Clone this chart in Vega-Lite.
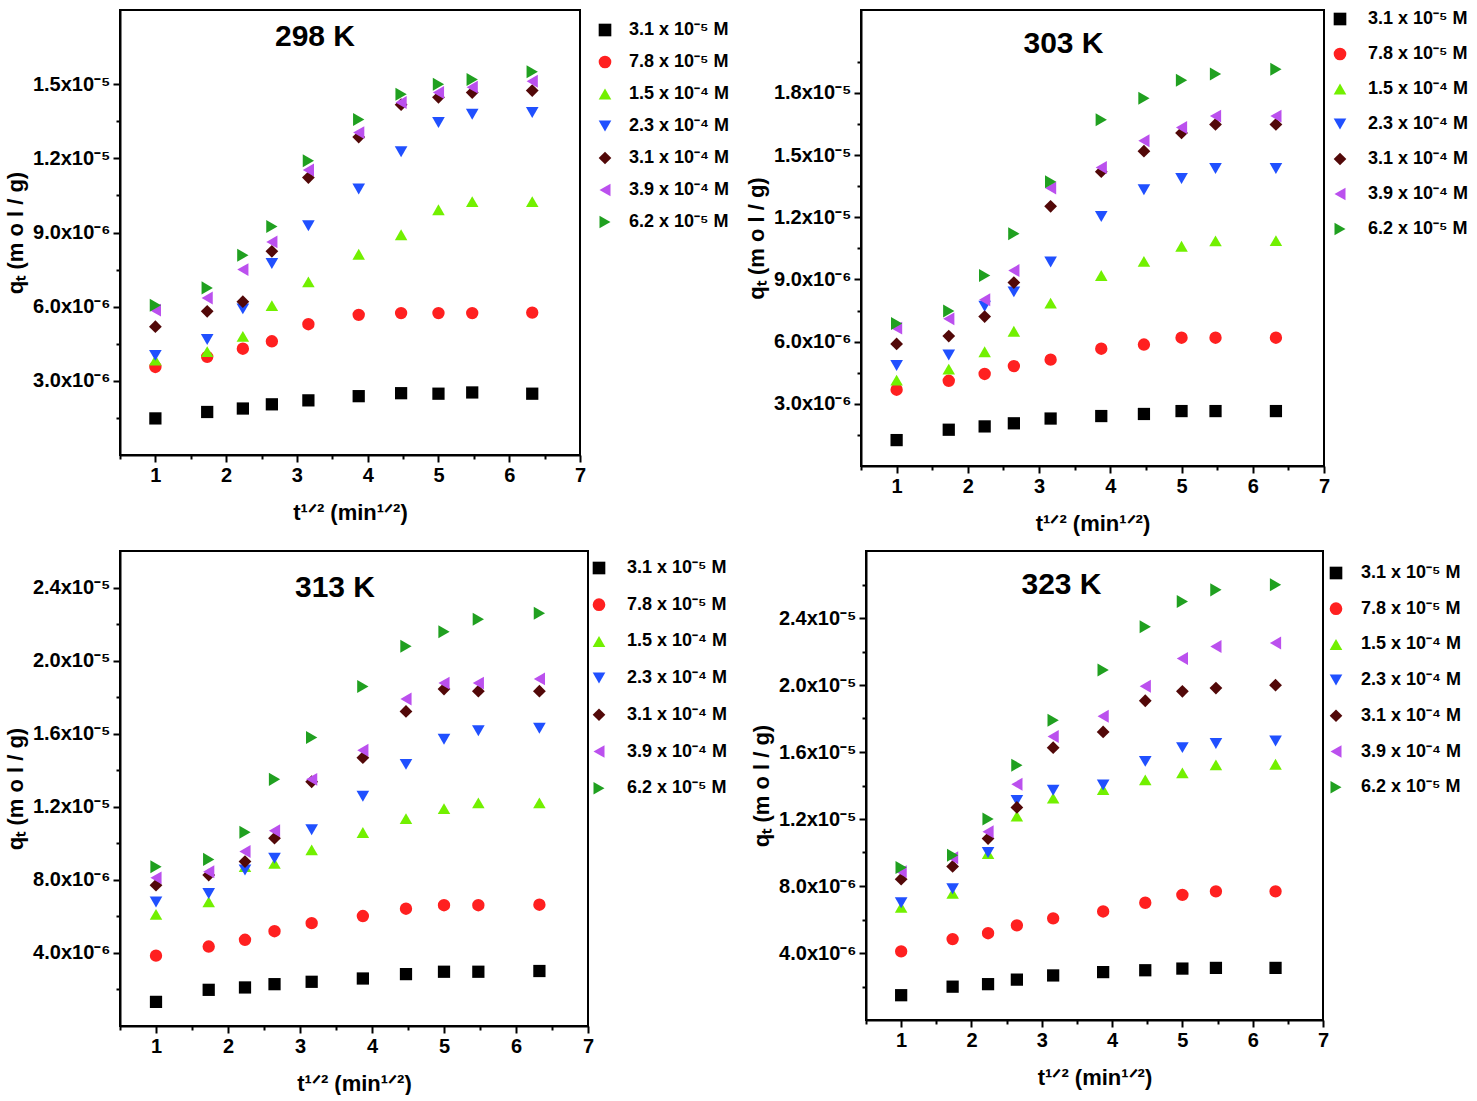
{
  "$schema": "https://vega.github.io/schema/vega-lite/v6.json",
  "background": "white",
  "padding": {"left": 3, "top": 9, "right": 0, "bottom": 0},
  "datasets": {
    "k298": [
      {"c": "3.1 x 10⁻⁵ M", "t": 1, "q": 1.48e-6}, {"c": "3.1 x 10⁻⁵ M", "t": 1.732, "q": 1.74e-6}, {"c": "3.1 x 10⁻⁵ M", "t": 2.236, "q": 1.88e-6}, {"c": "3.1 x 10⁻⁵ M", "t": 2.646, "q": 2.05e-6}, {"c": "3.1 x 10⁻⁵ M", "t": 3.162, "q": 2.21e-6},
      {"c": "3.1 x 10⁻⁵ M", "t": 3.873, "q": 2.38e-6}, {"c": "3.1 x 10⁻⁵ M", "t": 4.472, "q": 2.50e-6}, {"c": "3.1 x 10⁻⁵ M", "t": 5, "q": 2.48e-6}, {"c": "3.1 x 10⁻⁵ M", "t": 5.477, "q": 2.53e-6}, {"c": "3.1 x 10⁻⁵ M", "t": 6.325, "q": 2.48e-6},
      {"c": "7.8 x 10⁻⁵ M", "t": 1, "q": 3.56e-6}, {"c": "7.8 x 10⁻⁵ M", "t": 1.732, "q": 3.97e-6}, {"c": "7.8 x 10⁻⁵ M", "t": 2.236, "q": 4.30e-6}, {"c": "7.8 x 10⁻⁵ M", "t": 2.646, "q": 4.60e-6}, {"c": "7.8 x 10⁻⁵ M", "t": 3.162, "q": 5.29e-6},
      {"c": "7.8 x 10⁻⁵ M", "t": 3.873, "q": 5.67e-6}, {"c": "7.8 x 10⁻⁵ M", "t": 4.472, "q": 5.74e-6}, {"c": "7.8 x 10⁻⁵ M", "t": 5, "q": 5.74e-6}, {"c": "7.8 x 10⁻⁵ M", "t": 5.477, "q": 5.74e-6}, {"c": "7.8 x 10⁻⁵ M", "t": 6.325, "q": 5.76e-6},
      {"c": "1.5 x 10⁻⁴ M", "t": 1, "q": 3.84e-6}, {"c": "1.5 x 10⁻⁴ M", "t": 1.732, "q": 4.18e-6}, {"c": "1.5 x 10⁻⁴ M", "t": 2.236, "q": 4.80e-6}, {"c": "1.5 x 10⁻⁴ M", "t": 2.646, "q": 6.04e-6}, {"c": "1.5 x 10⁻⁴ M", "t": 3.162, "q": 7.00e-6},
      {"c": "1.5 x 10⁻⁴ M", "t": 3.873, "q": 8.12e-6}, {"c": "1.5 x 10⁻⁴ M", "t": 4.472, "q": 8.91e-6}, {"c": "1.5 x 10⁻⁴ M", "t": 5, "q": 9.92e-6}, {"c": "1.5 x 10⁻⁴ M", "t": 5.477, "q": 1.025e-5}, {"c": "1.5 x 10⁻⁴ M", "t": 6.325, "q": 1.025e-5},
      {"c": "2.3 x 10⁻⁴ M", "t": 1, "q": 4.03e-6}, {"c": "2.3 x 10⁻⁴ M", "t": 1.732, "q": 4.67e-6}, {"c": "2.3 x 10⁻⁴ M", "t": 2.236, "q": 5.91e-6}, {"c": "2.3 x 10⁻⁴ M", "t": 2.646, "q": 7.75e-6}, {"c": "2.3 x 10⁻⁴ M", "t": 3.162, "q": 9.27e-6},
      {"c": "2.3 x 10⁻⁴ M", "t": 3.873, "q": 1.076e-5}, {"c": "2.3 x 10⁻⁴ M", "t": 4.472, "q": 1.227e-5}, {"c": "2.3 x 10⁻⁴ M", "t": 5, "q": 1.345e-5}, {"c": "2.3 x 10⁻⁴ M", "t": 5.477, "q": 1.378e-5}, {"c": "2.3 x 10⁻⁴ M", "t": 6.325, "q": 1.385e-5},
      {"c": "3.1 x 10⁻⁴ M", "t": 1, "q": 5.19e-6}, {"c": "3.1 x 10⁻⁴ M", "t": 1.732, "q": 5.81e-6}, {"c": "3.1 x 10⁻⁴ M", "t": 2.236, "q": 6.20e-6}, {"c": "3.1 x 10⁻⁴ M", "t": 2.646, "q": 8.24e-6}, {"c": "3.1 x 10⁻⁴ M", "t": 3.162, "q": 1.122e-5},
      {"c": "3.1 x 10⁻⁴ M", "t": 3.873, "q": 1.286e-5}, {"c": "3.1 x 10⁻⁴ M", "t": 4.472, "q": 1.417e-5}, {"c": "3.1 x 10⁻⁴ M", "t": 5, "q": 1.447e-5}, {"c": "3.1 x 10⁻⁴ M", "t": 5.477, "q": 1.466e-5}, {"c": "3.1 x 10⁻⁴ M", "t": 6.325, "q": 1.474e-5},
      {"c": "3.9 x 10⁻⁴ M", "t": 1, "q": 5.86e-6}, {"c": "3.9 x 10⁻⁴ M", "t": 1.732, "q": 6.35e-6}, {"c": "3.9 x 10⁻⁴ M", "t": 2.236, "q": 7.50e-6}, {"c": "3.9 x 10⁻⁴ M", "t": 2.646, "q": 8.62e-6}, {"c": "3.9 x 10⁻⁴ M", "t": 3.162, "q": 1.153e-5},
      {"c": "3.9 x 10⁻⁴ M", "t": 3.873, "q": 1.304e-5}, {"c": "3.9 x 10⁻⁴ M", "t": 4.472, "q": 1.426e-5}, {"c": "3.9 x 10⁻⁴ M", "t": 5, "q": 1.466e-5}, {"c": "3.9 x 10⁻⁴ M", "t": 5.477, "q": 1.488e-5}, {"c": "3.9 x 10⁻⁴ M", "t": 6.325, "q": 1.512e-5},
      {"c": "6.2 x 10⁻⁵ M", "t": 1, "q": 6.06e-6}, {"c": "6.2 x 10⁻⁵ M", "t": 1.732, "q": 6.76e-6}, {"c": "6.2 x 10⁻⁵ M", "t": 2.236, "q": 8.08e-6}, {"c": "6.2 x 10⁻⁵ M", "t": 2.646, "q": 9.24e-6}, {"c": "6.2 x 10⁻⁵ M", "t": 3.162, "q": 1.190e-5},
      {"c": "6.2 x 10⁻⁵ M", "t": 3.873, "q": 1.357e-5}, {"c": "6.2 x 10⁻⁵ M", "t": 4.472, "q": 1.459e-5}, {"c": "6.2 x 10⁻⁵ M", "t": 5, "q": 1.500e-5}, {"c": "6.2 x 10⁻⁵ M", "t": 5.477, "q": 1.519e-5}, {"c": "6.2 x 10⁻⁵ M", "t": 6.325, "q": 1.550e-5}
    ],
    "k303": [
      {"c": "3.1 x 10⁻⁵ M", "t": 1, "q": 1.25e-6}, {"c": "3.1 x 10⁻⁵ M", "t": 1.732, "q": 1.75e-6}, {"c": "3.1 x 10⁻⁵ M", "t": 2.236, "q": 1.91e-6}, {"c": "3.1 x 10⁻⁵ M", "t": 2.646, "q": 2.06e-6}, {"c": "3.1 x 10⁻⁵ M", "t": 3.162, "q": 2.29e-6},
      {"c": "3.1 x 10⁻⁵ M", "t": 3.873, "q": 2.41e-6}, {"c": "3.1 x 10⁻⁵ M", "t": 4.472, "q": 2.51e-6}, {"c": "3.1 x 10⁻⁵ M", "t": 5, "q": 2.65e-6}, {"c": "3.1 x 10⁻⁵ M", "t": 5.477, "q": 2.65e-6}, {"c": "3.1 x 10⁻⁵ M", "t": 6.325, "q": 2.65e-6},
      {"c": "7.8 x 10⁻⁵ M", "t": 1, "q": 3.68e-6}, {"c": "7.8 x 10⁻⁵ M", "t": 1.732, "q": 4.11e-6}, {"c": "7.8 x 10⁻⁵ M", "t": 2.236, "q": 4.44e-6}, {"c": "7.8 x 10⁻⁵ M", "t": 2.646, "q": 4.82e-6}, {"c": "7.8 x 10⁻⁵ M", "t": 3.162, "q": 5.13e-6},
      {"c": "7.8 x 10⁻⁵ M", "t": 3.873, "q": 5.66e-6}, {"c": "7.8 x 10⁻⁵ M", "t": 4.472, "q": 5.86e-6}, {"c": "7.8 x 10⁻⁵ M", "t": 5, "q": 6.19e-6}, {"c": "7.8 x 10⁻⁵ M", "t": 5.477, "q": 6.19e-6}, {"c": "7.8 x 10⁻⁵ M", "t": 6.325, "q": 6.19e-6},
      {"c": "1.5 x 10⁻⁴ M", "t": 1, "q": 4.14e-6}, {"c": "1.5 x 10⁻⁴ M", "t": 1.732, "q": 4.67e-6}, {"c": "1.5 x 10⁻⁴ M", "t": 2.236, "q": 5.51e-6}, {"c": "1.5 x 10⁻⁴ M", "t": 2.646, "q": 6.50e-6}, {"c": "1.5 x 10⁻⁴ M", "t": 3.162, "q": 7.86e-6},
      {"c": "1.5 x 10⁻⁴ M", "t": 3.873, "q": 9.19e-6}, {"c": "1.5 x 10⁻⁴ M", "t": 4.472, "q": 9.87e-6}, {"c": "1.5 x 10⁻⁴ M", "t": 5, "q": 1.060e-5}, {"c": "1.5 x 10⁻⁴ M", "t": 5.477, "q": 1.086e-5}, {"c": "1.5 x 10⁻⁴ M", "t": 6.325, "q": 1.087e-5},
      {"c": "2.3 x 10⁻⁴ M", "t": 1, "q": 4.85e-6}, {"c": "2.3 x 10⁻⁴ M", "t": 1.732, "q": 5.36e-6}, {"c": "2.3 x 10⁻⁴ M", "t": 2.236, "q": 7.71e-6}, {"c": "2.3 x 10⁻⁴ M", "t": 2.646, "q": 8.40e-6}, {"c": "2.3 x 10⁻⁴ M", "t": 3.162, "q": 9.84e-6},
      {"c": "2.3 x 10⁻⁴ M", "t": 3.873, "q": 1.204e-5}, {"c": "2.3 x 10⁻⁴ M", "t": 4.472, "q": 1.333e-5}, {"c": "2.3 x 10⁻⁴ M", "t": 5, "q": 1.387e-5}, {"c": "2.3 x 10⁻⁴ M", "t": 5.477, "q": 1.435e-5}, {"c": "2.3 x 10⁻⁴ M", "t": 6.325, "q": 1.435e-5},
      {"c": "3.1 x 10⁻⁴ M", "t": 1, "q": 5.89e-6}, {"c": "3.1 x 10⁻⁴ M", "t": 1.732, "q": 6.27e-6}, {"c": "3.1 x 10⁻⁴ M", "t": 2.236, "q": 7.21e-6}, {"c": "3.1 x 10⁻⁴ M", "t": 2.646, "q": 8.85e-6}, {"c": "3.1 x 10⁻⁴ M", "t": 3.162, "q": 1.253e-5},
      {"c": "3.1 x 10⁻⁴ M", "t": 3.873, "q": 1.420e-5}, {"c": "3.1 x 10⁻⁴ M", "t": 4.472, "q": 1.519e-5}, {"c": "3.1 x 10⁻⁴ M", "t": 5, "q": 1.607e-5}, {"c": "3.1 x 10⁻⁴ M", "t": 5.477, "q": 1.648e-5}, {"c": "3.1 x 10⁻⁴ M", "t": 6.325, "q": 1.648e-5},
      {"c": "3.9 x 10⁻⁴ M", "t": 1, "q": 6.65e-6}, {"c": "3.9 x 10⁻⁴ M", "t": 1.732, "q": 7.10e-6}, {"c": "3.9 x 10⁻⁴ M", "t": 2.236, "q": 8.02e-6}, {"c": "3.9 x 10⁻⁴ M", "t": 2.646, "q": 9.43e-6}, {"c": "3.9 x 10⁻⁴ M", "t": 3.162, "q": 1.341e-5},
      {"c": "3.9 x 10⁻⁴ M", "t": 3.873, "q": 1.440e-5}, {"c": "3.9 x 10⁻⁴ M", "t": 4.472, "q": 1.569e-5}, {"c": "3.9 x 10⁻⁴ M", "t": 5, "q": 1.633e-5}, {"c": "3.9 x 10⁻⁴ M", "t": 5.477, "q": 1.688e-5}, {"c": "3.9 x 10⁻⁴ M", "t": 6.325, "q": 1.688e-5},
      {"c": "6.2 x 10⁻⁵ M", "t": 1, "q": 6.88e-6}, {"c": "6.2 x 10⁻⁵ M", "t": 1.732, "q": 7.48e-6}, {"c": "6.2 x 10⁻⁵ M", "t": 2.236, "q": 9.19e-6}, {"c": "6.2 x 10⁻⁵ M", "t": 2.646, "q": 1.121e-5}, {"c": "6.2 x 10⁻⁵ M", "t": 3.162, "q": 1.371e-5},
      {"c": "6.2 x 10⁻⁵ M", "t": 3.873, "q": 1.671e-5}, {"c": "6.2 x 10⁻⁵ M", "t": 4.472, "q": 1.774e-5}, {"c": "6.2 x 10⁻⁵ M", "t": 5, "q": 1.861e-5}, {"c": "6.2 x 10⁻⁵ M", "t": 5.477, "q": 1.891e-5}, {"c": "6.2 x 10⁻⁵ M", "t": 6.325, "q": 1.914e-5}
    ],
    "k313": [
      {"c": "3.1 x 10⁻⁵ M", "t": 1, "q": 1.32e-6}, {"c": "3.1 x 10⁻⁵ M", "t": 1.732, "q": 1.98e-6}, {"c": "3.1 x 10⁻⁵ M", "t": 2.236, "q": 2.11e-6}, {"c": "3.1 x 10⁻⁵ M", "t": 2.646, "q": 2.29e-6}, {"c": "3.1 x 10⁻⁵ M", "t": 3.162, "q": 2.42e-6},
      {"c": "3.1 x 10⁻⁵ M", "t": 3.873, "q": 2.60e-6}, {"c": "3.1 x 10⁻⁵ M", "t": 4.472, "q": 2.84e-6}, {"c": "3.1 x 10⁻⁵ M", "t": 5, "q": 2.97e-6}, {"c": "3.1 x 10⁻⁵ M", "t": 5.477, "q": 2.97e-6}, {"c": "3.1 x 10⁻⁵ M", "t": 6.325, "q": 3.01e-6},
      {"c": "7.8 x 10⁻⁵ M", "t": 1, "q": 3.85e-6}, {"c": "7.8 x 10⁻⁵ M", "t": 1.732, "q": 4.35e-6}, {"c": "7.8 x 10⁻⁵ M", "t": 2.236, "q": 4.72e-6}, {"c": "7.8 x 10⁻⁵ M", "t": 2.646, "q": 5.19e-6}, {"c": "7.8 x 10⁻⁵ M", "t": 3.162, "q": 5.63e-6},
      {"c": "7.8 x 10⁻⁵ M", "t": 3.873, "q": 6.02e-6}, {"c": "7.8 x 10⁻⁵ M", "t": 4.472, "q": 6.42e-6}, {"c": "7.8 x 10⁻⁵ M", "t": 5, "q": 6.61e-6}, {"c": "7.8 x 10⁻⁵ M", "t": 5.477, "q": 6.61e-6}, {"c": "7.8 x 10⁻⁵ M", "t": 6.325, "q": 6.64e-6},
      {"c": "1.5 x 10⁻⁴ M", "t": 1, "q": 6.11e-6}, {"c": "1.5 x 10⁻⁴ M", "t": 1.732, "q": 6.79e-6}, {"c": "1.5 x 10⁻⁴ M", "t": 2.236, "q": 8.72e-6}, {"c": "1.5 x 10⁻⁴ M", "t": 2.646, "q": 8.90e-6}, {"c": "1.5 x 10⁻⁴ M", "t": 3.162, "q": 9.64e-6},
      {"c": "1.5 x 10⁻⁴ M", "t": 3.873, "q": 1.059e-5}, {"c": "1.5 x 10⁻⁴ M", "t": 4.472, "q": 1.135e-5}, {"c": "1.5 x 10⁻⁴ M", "t": 5, "q": 1.190e-5}, {"c": "1.5 x 10⁻⁴ M", "t": 5.477, "q": 1.221e-5}, {"c": "1.5 x 10⁻⁴ M", "t": 6.325, "q": 1.221e-5},
      {"c": "2.3 x 10⁻⁴ M", "t": 1, "q": 6.79e-6}, {"c": "2.3 x 10⁻⁴ M", "t": 1.732, "q": 7.25e-6}, {"c": "2.3 x 10⁻⁴ M", "t": 2.236, "q": 8.54e-6}, {"c": "2.3 x 10⁻⁴ M", "t": 2.646, "q": 9.18e-6}, {"c": "2.3 x 10⁻⁴ M", "t": 3.162, "q": 1.074e-5},
      {"c": "2.3 x 10⁻⁴ M", "t": 3.873, "q": 1.258e-5}, {"c": "2.3 x 10⁻⁴ M", "t": 4.472, "q": 1.432e-5}, {"c": "2.3 x 10⁻⁴ M", "t": 5, "q": 1.570e-5}, {"c": "2.3 x 10⁻⁴ M", "t": 5.477, "q": 1.616e-5}, {"c": "2.3 x 10⁻⁴ M", "t": 6.325, "q": 1.630e-5},
      {"c": "3.1 x 10⁻⁴ M", "t": 1, "q": 7.71e-6}, {"c": "3.1 x 10⁻⁴ M", "t": 1.732, "q": 8.26e-6}, {"c": "3.1 x 10⁻⁴ M", "t": 2.236, "q": 9.00e-6}, {"c": "3.1 x 10⁻⁴ M", "t": 2.646, "q": 1.028e-5}, {"c": "3.1 x 10⁻⁴ M", "t": 3.162, "q": 1.337e-5},
      {"c": "3.1 x 10⁻⁴ M", "t": 3.873, "q": 1.469e-5}, {"c": "3.1 x 10⁻⁴ M", "t": 4.472, "q": 1.722e-5}, {"c": "3.1 x 10⁻⁴ M", "t": 5, "q": 1.844e-5}, {"c": "3.1 x 10⁻⁴ M", "t": 5.477, "q": 1.833e-5}, {"c": "3.1 x 10⁻⁴ M", "t": 6.325, "q": 1.833e-5},
      {"c": "3.9 x 10⁻⁴ M", "t": 1, "q": 8.11e-6}, {"c": "3.9 x 10⁻⁴ M", "t": 1.732, "q": 8.44e-6}, {"c": "3.9 x 10⁻⁴ M", "t": 2.236, "q": 9.55e-6}, {"c": "3.9 x 10⁻⁴ M", "t": 2.646, "q": 1.069e-5}, {"c": "3.9 x 10⁻⁴ M", "t": 3.162, "q": 1.350e-5},
      {"c": "3.9 x 10⁻⁴ M", "t": 3.873, "q": 1.509e-5}, {"c": "3.9 x 10⁻⁴ M", "t": 4.472, "q": 1.790e-5}, {"c": "3.9 x 10⁻⁴ M", "t": 5, "q": 1.877e-5}, {"c": "3.9 x 10⁻⁴ M", "t": 5.477, "q": 1.877e-5}, {"c": "3.9 x 10⁻⁴ M", "t": 6.325, "q": 1.900e-5},
      {"c": "6.2 x 10⁻⁵ M", "t": 1, "q": 8.72e-6}, {"c": "6.2 x 10⁻⁵ M", "t": 1.732, "q": 9.12e-6}, {"c": "6.2 x 10⁻⁵ M", "t": 2.236, "q": 1.061e-5}, {"c": "6.2 x 10⁻⁵ M", "t": 2.646, "q": 1.350e-5}, {"c": "6.2 x 10⁻⁵ M", "t": 3.162, "q": 1.579e-5},
      {"c": "6.2 x 10⁻⁵ M", "t": 3.873, "q": 1.858e-5}, {"c": "6.2 x 10⁻⁵ M", "t": 4.472, "q": 2.079e-5}, {"c": "6.2 x 10⁻⁵ M", "t": 5, "q": 2.158e-5}, {"c": "6.2 x 10⁻⁵ M", "t": 5.477, "q": 2.226e-5}, {"c": "6.2 x 10⁻⁵ M", "t": 6.325, "q": 2.259e-5}
    ],
    "k323": [
      {"c": "3.1 x 10⁻⁵ M", "t": 1, "q": 1.48e-6}, {"c": "3.1 x 10⁻⁵ M", "t": 1.732, "q": 1.99e-6}, {"c": "3.1 x 10⁻⁵ M", "t": 2.236, "q": 2.14e-6}, {"c": "3.1 x 10⁻⁵ M", "t": 2.646, "q": 2.41e-6}, {"c": "3.1 x 10⁻⁵ M", "t": 3.162, "q": 2.66e-6},
      {"c": "3.1 x 10⁻⁵ M", "t": 3.873, "q": 2.86e-6}, {"c": "3.1 x 10⁻⁵ M", "t": 4.472, "q": 2.97e-6}, {"c": "3.1 x 10⁻⁵ M", "t": 5, "q": 3.07e-6}, {"c": "3.1 x 10⁻⁵ M", "t": 5.477, "q": 3.11e-6}, {"c": "3.1 x 10⁻⁵ M", "t": 6.325, "q": 3.11e-6},
      {"c": "7.8 x 10⁻⁵ M", "t": 1, "q": 4.10e-6}, {"c": "7.8 x 10⁻⁵ M", "t": 1.732, "q": 4.83e-6}, {"c": "7.8 x 10⁻⁵ M", "t": 2.236, "q": 5.18e-6}, {"c": "7.8 x 10⁻⁵ M", "t": 2.646, "q": 5.65e-6}, {"c": "7.8 x 10⁻⁵ M", "t": 3.162, "q": 6.07e-6},
      {"c": "7.8 x 10⁻⁵ M", "t": 3.873, "q": 6.48e-6}, {"c": "7.8 x 10⁻⁵ M", "t": 4.472, "q": 7.00e-6}, {"c": "7.8 x 10⁻⁵ M", "t": 5, "q": 7.47e-6}, {"c": "7.8 x 10⁻⁵ M", "t": 5.477, "q": 7.68e-6}, {"c": "7.8 x 10⁻⁵ M", "t": 6.325, "q": 7.68e-6},
      {"c": "1.5 x 10⁻⁴ M", "t": 1, "q": 6.73e-6}, {"c": "1.5 x 10⁻⁴ M", "t": 1.732, "q": 7.56e-6}, {"c": "1.5 x 10⁻⁴ M", "t": 2.236, "q": 9.94e-6}, {"c": "1.5 x 10⁻⁴ M", "t": 2.646, "q": 1.217e-5}, {"c": "1.5 x 10⁻⁴ M", "t": 3.162, "q": 1.325e-5},
      {"c": "1.5 x 10⁻⁴ M", "t": 3.873, "q": 1.376e-5}, {"c": "1.5 x 10⁻⁴ M", "t": 4.472, "q": 1.434e-5}, {"c": "1.5 x 10⁻⁴ M", "t": 5, "q": 1.475e-5}, {"c": "1.5 x 10⁻⁴ M", "t": 5.477, "q": 1.523e-5}, {"c": "1.5 x 10⁻⁴ M", "t": 6.325, "q": 1.527e-5},
      {"c": "2.3 x 10⁻⁴ M", "t": 1, "q": 7.00e-6}, {"c": "2.3 x 10⁻⁴ M", "t": 1.732, "q": 7.83e-6}, {"c": "2.3 x 10⁻⁴ M", "t": 2.236, "q": 1.000e-5}, {"c": "2.3 x 10⁻⁴ M", "t": 2.646, "q": 1.310e-5}, {"c": "2.3 x 10⁻⁴ M", "t": 3.162, "q": 1.372e-5},
      {"c": "2.3 x 10⁻⁴ M", "t": 3.873, "q": 1.403e-5}, {"c": "2.3 x 10⁻⁴ M", "t": 4.472, "q": 1.544e-5}, {"c": "2.3 x 10⁻⁴ M", "t": 5, "q": 1.626e-5}, {"c": "2.3 x 10⁻⁴ M", "t": 5.477, "q": 1.651e-5}, {"c": "2.3 x 10⁻⁴ M", "t": 6.325, "q": 1.666e-5},
      {"c": "3.1 x 10⁻⁴ M", "t": 1, "q": 8.41e-6}, {"c": "3.1 x 10⁻⁴ M", "t": 1.732, "q": 9.17e-6}, {"c": "3.1 x 10⁻⁴ M", "t": 2.236, "q": 1.083e-5}, {"c": "3.1 x 10⁻⁴ M", "t": 2.646, "q": 1.269e-5}, {"c": "3.1 x 10⁻⁴ M", "t": 3.162, "q": 1.626e-5},
      {"c": "3.1 x 10⁻⁴ M", "t": 3.873, "q": 1.720e-5}, {"c": "3.1 x 10⁻⁴ M", "t": 4.472, "q": 1.906e-5}, {"c": "3.1 x 10⁻⁴ M", "t": 5, "q": 1.962e-5}, {"c": "3.1 x 10⁻⁴ M", "t": 5.477, "q": 1.982e-5}, {"c": "3.1 x 10⁻⁴ M", "t": 6.325, "q": 1.999e-5},
      {"c": "3.9 x 10⁻⁴ M", "t": 1, "q": 8.86e-6}, {"c": "3.9 x 10⁻⁴ M", "t": 1.732, "q": 9.69e-6}, {"c": "3.9 x 10⁻⁴ M", "t": 2.236, "q": 1.124e-5}, {"c": "3.9 x 10⁻⁴ M", "t": 2.646, "q": 1.407e-5}, {"c": "3.9 x 10⁻⁴ M", "t": 3.162, "q": 1.693e-5},
      {"c": "3.9 x 10⁻⁴ M", "t": 3.873, "q": 1.813e-5}, {"c": "3.9 x 10⁻⁴ M", "t": 4.472, "q": 1.993e-5}, {"c": "3.9 x 10⁻⁴ M", "t": 5, "q": 2.158e-5}, {"c": "3.9 x 10⁻⁴ M", "t": 5.477, "q": 2.230e-5}, {"c": "3.9 x 10⁻⁴ M", "t": 6.325, "q": 2.251e-5},
      {"c": "6.2 x 10⁻⁵ M", "t": 1, "q": 9.11e-6}, {"c": "6.2 x 10⁻⁵ M", "t": 1.732, "q": 9.83e-6}, {"c": "6.2 x 10⁻⁵ M", "t": 2.236, "q": 1.200e-5}, {"c": "6.2 x 10⁻⁵ M", "t": 2.646, "q": 1.521e-5}, {"c": "6.2 x 10⁻⁵ M", "t": 3.162, "q": 1.790e-5},
      {"c": "6.2 x 10⁻⁵ M", "t": 3.873, "q": 2.090e-5}, {"c": "6.2 x 10⁻⁵ M", "t": 4.472, "q": 2.348e-5}, {"c": "6.2 x 10⁻⁵ M", "t": 5, "q": 2.499e-5}, {"c": "6.2 x 10⁻⁵ M", "t": 5.477, "q": 2.568e-5}, {"c": "6.2 x 10⁻⁵ M", "t": 6.325, "q": 2.599e-5}
    ]
  },
  "spacing": 15,
  "vconcat": [
    {
      "spacing": 3,
      "hconcat": [
        {
          "width": 460, "height": 445,
          "data": {"name": "k298"},
          "title": {"text": "298 K", "offset": -42, "dx": -35},
          "layer": [
            {
              "mark": {"type": "point", "filled": true, "opacity": 1},
              "encoding": {
                "x": {"field": "t", "type": "quantitative", "scale": {"domain": [0.5, 7]}, "axis": {"orient": "bottom", "values": [1, 2, 3, 4, 5, 6, 7], "title": "t¹ᐟ² (min¹ᐟ²)"}},
                "y": {"field": "q", "type": "quantitative", "scale": {"domain": [5e-7, 1.65e-5]}, "axis": {"orient": "left", "values": [3e-6, 6e-6, 9e-6, 1.2e-5, 1.5e-5], "labelExpr": "format(datum.value / pow(10, floor(log(datum.value) / LN10)), '.1f') + 'x10' + (floor(log(datum.value) / LN10) == -5 ? '⁻⁵' : '⁻⁶')", "title": "qₜ (m o l / g)"}},
                "color": {"field": "c", "type": "nominal", "scale": {"domain": ["3.1 x 10⁻⁵ M", "7.8 x 10⁻⁵ M", "1.5 x 10⁻⁴ M", "2.3 x 10⁻⁴ M", "3.1 x 10⁻⁴ M", "3.9 x 10⁻⁴ M", "6.2 x 10⁻⁵ M"], "range": ["#000000", "#ff2020", "#72f000", "#2050ff", "#520808", "#bb50ee", "#20a020"]}, "legend": {"offset": 5, "padding": 11, "rowPadding": 14, "labelOffset": 15}},
                "shape": {"field": "c", "type": "nominal", "scale": {"domain": ["3.1 x 10⁻⁵ M", "7.8 x 10⁻⁵ M", "1.5 x 10⁻⁴ M", "2.3 x 10⁻⁴ M", "3.1 x 10⁻⁴ M", "3.9 x 10⁻⁴ M", "6.2 x 10⁻⁵ M"], "range": ["square", "circle", "triangle-up", "triangle-down", "diamond", "triangle-left", "triangle-right"]}},
                "size": {"field": "c", "type": "nominal", "scale": {"domain": ["3.1 x 10⁻⁵ M", "7.8 x 10⁻⁵ M", "1.5 x 10⁻⁴ M", "2.3 x 10⁻⁴ M", "3.1 x 10⁻⁴ M", "3.9 x 10⁻⁴ M", "6.2 x 10⁻⁵ M"], "range": [150, 170, 240, 240, 200, 240, 240]}, "legend": null}
              }
            },
            {
              "mark": {"type": "point", "opacity": 0},
              "encoding": {
                "x": {"field": "t", "type": "quantitative", "axis": {"orient": "bottom", "values": [0.5, 1.5, 2.5, 3.5, 4.5, 5.5, 6.5], "labels": false, "domain": false, "tickSize": 4, "title": null}},
                "y": {"field": "q", "type": "quantitative", "axis": {"orient": "left", "values": [1.5e-6, 4.5e-6, 7.5e-6, 1.05e-5, 1.35e-5], "labels": false, "domain": false, "tickSize": 4, "title": null}}
              }
            }
          ],
          "resolve": {"axis": {"x": "independent", "y": "independent"}}
        },
        {
          "width": 463, "height": 456,
          "data": {"name": "k303"},
          "title": {"text": "303 K", "offset": -49, "dx": -29},
          "layer": [
            {
              "mark": {"type": "point", "filled": true, "opacity": 1},
              "encoding": {
                "x": {"field": "t", "type": "quantitative", "scale": {"domain": [0.5, 7]}, "axis": {"orient": "bottom", "values": [1, 2, 3, 4, 5, 6, 7], "title": "t¹ᐟ² (min¹ᐟ²)"}},
                "y": {"field": "q", "type": "quantitative", "scale": {"domain": [5e-7, 2.05e-5]}, "axis": {"orient": "left", "values": [3e-6, 6e-6, 9e-6, 1.2e-5, 1.5e-5, 1.8e-5], "labelExpr": "format(datum.value / pow(10, floor(log(datum.value) / LN10)), '.1f') + 'x10' + (floor(log(datum.value) / LN10) == -5 ? '⁻⁵' : '⁻⁶')", "title": "qₜ (m o l / g)"}},
                "color": {"field": "c", "type": "nominal", "scale": {"domain": ["3.1 x 10⁻⁵ M", "7.8 x 10⁻⁵ M", "1.5 x 10⁻⁴ M", "2.3 x 10⁻⁴ M", "3.1 x 10⁻⁴ M", "3.9 x 10⁻⁴ M", "6.2 x 10⁻⁵ M"], "range": ["#000000", "#ff2020", "#72f000", "#2050ff", "#520808", "#bb50ee", "#20a020"]}, "legend": {"offset": 7, "padding": 0, "rowPadding": 17, "labelOffset": 19}},
                "shape": {"field": "c", "type": "nominal", "scale": {"domain": ["3.1 x 10⁻⁵ M", "7.8 x 10⁻⁵ M", "1.5 x 10⁻⁴ M", "2.3 x 10⁻⁴ M", "3.1 x 10⁻⁴ M", "3.9 x 10⁻⁴ M", "6.2 x 10⁻⁵ M"], "range": ["square", "circle", "triangle-up", "triangle-down", "diamond", "triangle-left", "triangle-right"]}},
                "size": {"field": "c", "type": "nominal", "scale": {"domain": ["3.1 x 10⁻⁵ M", "7.8 x 10⁻⁵ M", "1.5 x 10⁻⁴ M", "2.3 x 10⁻⁴ M", "3.1 x 10⁻⁴ M", "3.9 x 10⁻⁴ M", "6.2 x 10⁻⁵ M"], "range": [150, 170, 240, 240, 200, 240, 240]}, "legend": null}
              }
            },
            {
              "mark": {"type": "point", "opacity": 0},
              "encoding": {
                "x": {"field": "t", "type": "quantitative", "axis": {"orient": "bottom", "values": [0.5, 1.5, 2.5, 3.5, 4.5, 5.5, 6.5], "labels": false, "domain": false, "tickSize": 4, "title": null}},
                "y": {"field": "q", "type": "quantitative", "axis": {"orient": "left", "values": [1.5e-6, 4.5e-6, 7.5e-6, 1.05e-5, 1.35e-5, 1.65e-5, 1.95e-5], "labels": false, "domain": false, "tickSize": 4, "title": null}}
              }
            }
          ],
          "resolve": {"axis": {"x": "independent", "y": "independent"}}
        }
      ],
      "resolve": {"scale": {"x": "independent", "y": "independent"}, "legend": {"color": "independent", "shape": "independent"}}
    },
    {
      "spacing": 13,
      "hconcat": [
        {
          "width": 468, "height": 475,
          "data": {"name": "k313"},
          "title": {"text": "313 K", "offset": -52, "dx": -19},
          "layer": [
            {
              "mark": {"type": "point", "filled": true, "opacity": 1},
              "encoding": {
                "x": {"field": "t", "type": "quantitative", "scale": {"domain": [0.5, 7]}, "axis": {"orient": "bottom", "values": [1, 2, 3, 4, 5, 6, 7], "title": "t¹ᐟ² (min¹ᐟ²)"}},
                "y": {"field": "q", "type": "quantitative", "scale": {"domain": [5e-7, 2.5e-5]}, "axis": {"orient": "left", "values": [4e-6, 8e-6, 1.2e-5, 1.6e-5, 2.0e-5, 2.4e-5], "labelExpr": "format(datum.value / pow(10, floor(log(datum.value) / LN10)), '.1f') + 'x10' + (floor(log(datum.value) / LN10) == -5 ? '⁻⁵' : '⁻⁶')", "title": "qₜ (m o l / g)"}},
                "color": {"field": "c", "type": "nominal", "scale": {"domain": ["3.1 x 10⁻⁵ M", "7.8 x 10⁻⁵ M", "1.5 x 10⁻⁴ M", "2.3 x 10⁻⁴ M", "3.1 x 10⁻⁴ M", "3.9 x 10⁻⁴ M", "6.2 x 10⁻⁵ M"], "range": ["#000000", "#ff2020", "#72f000", "#2050ff", "#520808", "#bb50ee", "#20a020"]}, "legend": {"offset": -6, "padding": 8, "rowPadding": 18.7, "labelOffset": 19}},
                "shape": {"field": "c", "type": "nominal", "scale": {"domain": ["3.1 x 10⁻⁵ M", "7.8 x 10⁻⁵ M", "1.5 x 10⁻⁴ M", "2.3 x 10⁻⁴ M", "3.1 x 10⁻⁴ M", "3.9 x 10⁻⁴ M", "6.2 x 10⁻⁵ M"], "range": ["square", "circle", "triangle-up", "triangle-down", "diamond", "triangle-left", "triangle-right"]}},
                "size": {"field": "c", "type": "nominal", "scale": {"domain": ["3.1 x 10⁻⁵ M", "7.8 x 10⁻⁵ M", "1.5 x 10⁻⁴ M", "2.3 x 10⁻⁴ M", "3.1 x 10⁻⁴ M", "3.9 x 10⁻⁴ M", "6.2 x 10⁻⁵ M"], "range": [150, 170, 240, 240, 200, 240, 240]}, "legend": null}
              }
            },
            {
              "mark": {"type": "point", "opacity": 0},
              "encoding": {
                "x": {"field": "t", "type": "quantitative", "axis": {"orient": "bottom", "values": [0.5, 1.5, 2.5, 3.5, 4.5, 5.5, 6.5], "labels": false, "domain": false, "tickSize": 4, "title": null}},
                "y": {"field": "q", "type": "quantitative", "axis": {"orient": "left", "values": [2e-6, 6e-6, 1e-5, 1.4e-5, 1.8e-5, 2.2e-5], "labels": false, "domain": false, "tickSize": 4, "title": null}}
              }
            }
          ],
          "resolve": {"axis": {"x": "independent", "y": "independent"}}
        },
        {
          "width": 457, "height": 469,
          "data": {"name": "k323"},
          "title": {"text": "323 K", "offset": -49, "dx": -33},
          "layer": [
            {
              "mark": {"type": "point", "filled": true, "opacity": 1},
              "encoding": {
                "x": {"field": "t", "type": "quantitative", "scale": {"domain": [0.5, 7]}, "axis": {"orient": "bottom", "values": [1, 2, 3, 4, 5, 6, 7], "title": "t¹ᐟ² (min¹ᐟ²)"}},
                "y": {"field": "q", "type": "quantitative", "scale": {"domain": [5e-7, 2.75e-5]}, "axis": {"orient": "left", "values": [4e-6, 8e-6, 1.2e-5, 1.6e-5, 2.0e-5, 2.4e-5], "labelExpr": "format(datum.value / pow(10, floor(log(datum.value) / LN10)), '.1f') + 'x10' + (floor(log(datum.value) / LN10) == -5 ? '⁻⁵' : '⁻⁶')", "title": "qₜ (m o l / g)"}},
                "color": {"field": "c", "type": "nominal", "scale": {"domain": ["3.1 x 10⁻⁵ M", "7.8 x 10⁻⁵ M", "1.5 x 10⁻⁴ M", "2.3 x 10⁻⁴ M", "3.1 x 10⁻⁴ M", "3.9 x 10⁻⁴ M", "6.2 x 10⁻⁵ M"], "range": ["#000000", "#ff2020", "#72f000", "#2050ff", "#520808", "#bb50ee", "#20a020"]}, "legend": {"offset": -9, "padding": 13, "rowPadding": 17.7, "labelOffset": 16}},
                "shape": {"field": "c", "type": "nominal", "scale": {"domain": ["3.1 x 10⁻⁵ M", "7.8 x 10⁻⁵ M", "1.5 x 10⁻⁴ M", "2.3 x 10⁻⁴ M", "3.1 x 10⁻⁴ M", "3.9 x 10⁻⁴ M", "6.2 x 10⁻⁵ M"], "range": ["square", "circle", "triangle-up", "triangle-down", "diamond", "triangle-left", "triangle-right"]}},
                "size": {"field": "c", "type": "nominal", "scale": {"domain": ["3.1 x 10⁻⁵ M", "7.8 x 10⁻⁵ M", "1.5 x 10⁻⁴ M", "2.3 x 10⁻⁴ M", "3.1 x 10⁻⁴ M", "3.9 x 10⁻⁴ M", "6.2 x 10⁻⁵ M"], "range": [150, 170, 240, 240, 200, 240, 240]}, "legend": null}
              }
            },
            {
              "mark": {"type": "point", "opacity": 0},
              "encoding": {
                "x": {"field": "t", "type": "quantitative", "axis": {"orient": "bottom", "values": [0.5, 1.5, 2.5, 3.5, 4.5, 5.5, 6.5], "labels": false, "domain": false, "tickSize": 4, "title": null}},
                "y": {"field": "q", "type": "quantitative", "axis": {"orient": "left", "values": [2e-6, 6e-6, 1e-5, 1.4e-5, 1.8e-5, 2.2e-5, 2.6e-5], "labels": false, "domain": false, "tickSize": 4, "title": null}}
              }
            }
          ],
          "resolve": {"axis": {"x": "independent", "y": "independent"}}
        }
      ],
      "resolve": {"scale": {"x": "independent", "y": "independent"}, "legend": {"color": "independent", "shape": "independent"}}
    }
  ],
  "resolve": {"scale": {"x": "independent", "y": "independent"}, "legend": {"color": "independent", "shape": "independent"}},
  "config": {
    "view": {"stroke": "black", "strokeWidth": 2},
    "axis": {"grid": false, "domainColor": "black", "domainWidth": 2, "tickColor": "black", "tickWidth": 2, "tickSize": 7, "labelFont": "Liberation Sans", "labelFontSize": 20, "labelFontWeight": "bold", "labelColor": "black", "labelPadding": 3, "labelFlush": false, "labelOverlap": false, "labelBound": false, "titleFont": "Liberation Sans", "titleFontSize": 22, "titleFontWeight": "bold", "titleColor": "black"},
    "axisX": {"titlePadding": 17},
    "axisY": {"titlePadding": 5},
    "legend": {"title": null, "orient": "right", "symbolSize": 160, "symbolStrokeWidth": 0, "labelFont": "Liberation Sans", "labelFontSize": 18, "labelFontWeight": "bold", "labelColor": "black", "labelLimit": 300},
    "title": {"font": "Liberation Sans", "fontSize": 30, "fontWeight": "bold", "color": "black", "anchor": "middle", "frame": "group", "baseline": "middle"}
  }
}
